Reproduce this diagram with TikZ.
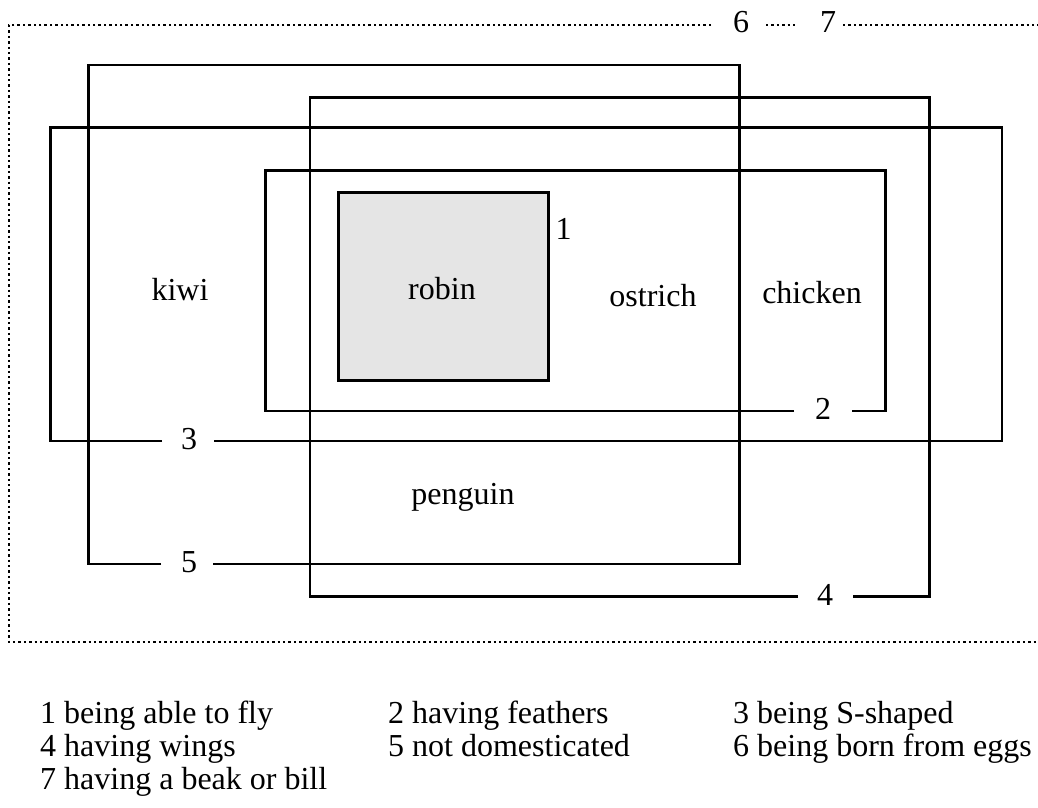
\documentclass[tikz,border=0pt]{standalone}
\usepackage{fontspec}
\setmainfont{Liberation Serif}
\begin{document}
\begin{tikzpicture}[x=1pt,y=-1pt,
  box/.style={line width=2.8pt, line join=miter},
  robinbox/.style={line width=2.6pt, fill=gray!20},
  lab/.style={inner sep=0pt, font=\fontsize{32}{38}\selectfont},
  txt/.style={inner sep=0pt, font=\fontsize{32}{38}\selectfont},
  leg/.style={inner sep=0pt, anchor=base west, font=\fontsize{32}{38}\selectfont},
  frame/.style={line width=2.4pt, dash pattern=on 2.4pt off 3pt}]
\useasboundingbox (0,0) rectangle (1038,807);
% dotted frame
\node[lab] (n6) at (741,22) {6};
\node[lab] (n7) at (828,22) {7};
\coordinate (f6w) at (711,25);
\coordinate (f6e) at (766,25);
\coordinate (f7w) at (798,25);
\coordinate (f7e) at (843,25);
\draw[frame] (f6w) -- (9,25) -- (9,642) -- (1038,642);
\draw[frame] (f6e) -- (f7w);
\draw[frame] (f7e) -- (1038,25);
% rect 5
\node[lab] (n5) at (189,562) {5};
\draw[box] (161,564) -| (88.3,65) -| (739.3,564) -- (213,564);
% rect 4
\node[lab] (n4) at (825,595) {4};
\draw[box] (798,596.7) -| (310,97.3) -| (929.3,596.7) -- (853,596.7);
% rect 3
\node[lab] (n3) at (189,439) {3};
\draw[box] (162,441) -| (50.7,127.3) -| (1002,441) -- (214,441);
% rect 2
\node[lab] (n2) at (823,409) {2};
\draw[box] (794,411) -| (265.3,170.7) -| (885.7,411) -- (852,411);
% rect 1
\draw[robinbox] (338.3,192.7) rectangle (548.3,380.7);
\node[lab] (n1) at (563.5,229) {1};
% animals
\node[txt] (kiwi) at (180,290) {kiwi};
\node[txt] (robin) at (442,289) {robin};
\node[txt] (ostrich) at (653,296) {ostrich};
\node[txt] (chicken) at (812,293) {chicken};
\node[txt] (penguin) at (463,497) {penguin};
% legend
\node[leg] (l1) at (40,723) {1 being able to fly};
\node[leg] (l2) at (388,723) {2 having feathers};
\node[leg] (l3) at (733,723) {3 being S-shaped};
\node[leg] (l4) at (40,756) {4 having wings};
\node[leg] (l5) at (388,756) {5 not domesticated};
\node[leg] (l6) at (733,756) {6 being born from eggs};
\node[leg] (l7) at (40,789) {7 having a beak or bill};
\end{tikzpicture}
\end{document}
